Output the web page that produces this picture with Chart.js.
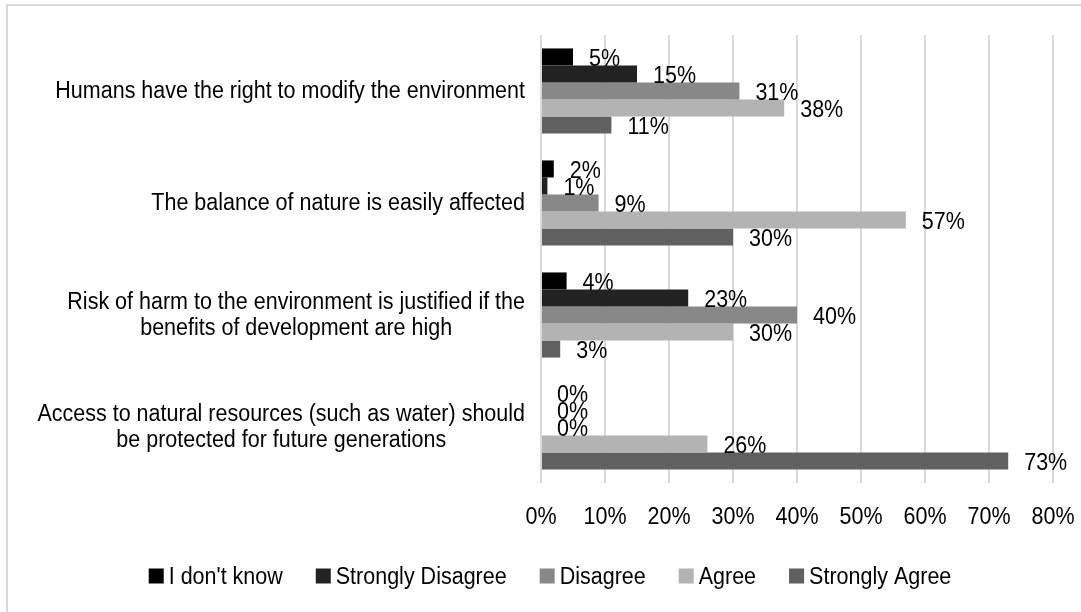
<!DOCTYPE html>
<html>
<head>
<meta charset="utf-8">
<script src="https://cdn.jsdelivr.net/npm/chart.js@4.4.1/dist/chart.umd.min.js"></script>
<style>
  html, body { margin: 0; padding: 0; background: #fff; }
  #wrap { position: relative; width: 1081px; height: 612px; }
</style>
</head>
<body>
<div id="wrap"><canvas id="chart" width="1081" height="612"></canvas></div>
<script>
  // categories (top to bottom), multi-line labels as arrays
  const categories = [
    ['Humans have the right to modify the environment'],
    ['The balance of nature is easily affected'],
    ['Risk of harm to the environment is justified if the', 'benefits of development are high'],
    ['Access to natural resources (such as water) should', 'be protected for future generations']
  ];
  const seriesNames = ["I don't know", 'Strongly Disagree', 'Disagree', 'Agree', 'Strongly Agree'];

  const dontKnow = [5, 2, 4, 0];
  const stronglyDisagree = [15, 1, 23, 0];
  const disagree = [31, 9, 40, 0];
  const agree = [38, 57, 30, 26];
  const stronglyAgree = [11, 30, 3, 73];

  const xTicks = [0, 10, 20, 30, 40, 50, 60, 70, 80];

  const colors = ['#000000', '#222222', '#888888', '#b3b3b3', '#606060'];
  const FONT = '"Liberation Sans", Arial, sans-serif';
  const FONT_SIZE = 21.5;
  const STRETCH = 1.13; // text in the original is a bit taller than Arial

  Chart.defaults.font.family = FONT;
  Chart.defaults.font.size = FONT_SIZE;
  Chart.defaults.color = '#000';

  const seriesValues = [dontKnow, stronglyDisagree, disagree, agree, stronglyAgree];

  function tallText(ctx, text, x, y) {
    ctx.save();
    ctx.translate(x, y);
    ctx.scale(1, STRETCH);
    ctx.fillText(text, 0, 0);
    ctx.restore();
  }

  // white background and the light frame at top/left
  const framePlugin = {
    id: 'frame',
    beforeDraw(chart) {
      const ctx = chart.ctx;
      ctx.save();
      ctx.fillStyle = '#fff';
      ctx.fillRect(0, 0, chart.width, chart.height);
      ctx.strokeStyle = '#d9d9d9';
      ctx.lineWidth = 2;
      ctx.beginPath();
      ctx.moveTo(7, chart.height);
      ctx.lineTo(7, 5);
      ctx.lineTo(chart.width, 5);
      ctx.stroke();
      ctx.restore();
    }
  };

  // category labels: block right-aligned, lines centred within the block
  const categoryLabels = {
    id: 'categoryLabels',
    afterDraw(chart) {
      const ctx = chart.ctx;
      const y = chart.scales.y;
      const right = chart.chartArea.left - 16;
      const lh = 26;
      ctx.save();
      ctx.font = FONT_SIZE + 'px ' + FONT;
      ctx.fillStyle = '#000';
      ctx.textAlign = 'center';
      ctx.textBaseline = 'middle';
      categories.forEach((lines, i) => {
        const w = Math.max(...lines.map(l => ctx.measureText(l).width));
        const cx = right - w / 2;
        const cy = y.getPixelForValue(i);
        const top = cy - (lines.length - 1) * lh / 2;
        lines.forEach((l, j) => tallText(ctx, l, cx, top + j * lh));
      });
      ctx.restore();
    }
  };

  // x tick labels under the plot
  const xLabels = {
    id: 'xLabels',
    afterDraw(chart) {
      const ctx = chart.ctx;
      const x = chart.scales.x;
      ctx.save();
      ctx.font = FONT_SIZE + 'px ' + FONT;
      ctx.fillStyle = '#000';
      ctx.textAlign = 'center';
      ctx.textBaseline = 'middle';
      xTicks.forEach(v => tallText(ctx, v + '%', x.getPixelForValue(v), chart.chartArea.bottom + 34));
      ctx.restore();
    }
  };

  // value labels just past the bar ends
  const valueLabels = {
    id: 'valueLabels',
    afterDatasetsDraw(chart) {
      const ctx = chart.ctx;
      ctx.save();
      ctx.font = FONT_SIZE + 'px ' + FONT;
      ctx.fillStyle = '#000';
      ctx.textAlign = 'left';
      ctx.textBaseline = 'middle';
      chart.data.datasets.forEach((ds, di) => {
        const meta = chart.getDatasetMeta(di);
        meta.data.forEach((bar, i) => {
          tallText(ctx, ds.data[i] + '%', bar.x + 16, bar.y + 2);
        });
      });
      ctx.restore();
    }
  };

  // legend row at the bottom
  const legendRow = {
    id: 'legendRow',
    afterDraw(chart) {
      const ctx = chart.ctx;
      const box = 15, gapText = 5, gapItem = 33;
      ctx.save();
      ctx.font = FONT_SIZE + 'px ' + FONT;
      ctx.textBaseline = 'middle';
      ctx.textAlign = 'left';
      const widths = seriesNames.map(n => box + gapText + ctx.measureText(n).width);
      const total = widths.reduce((a, b) => a + b, 0) + gapItem * (widths.length - 1);
      let x = 550 - total / 2;
      const cy = 576;
      seriesNames.forEach((n, i) => {
        ctx.fillStyle = colors[i];
        ctx.fillRect(x, cy - box / 2, box, box);
        ctx.fillStyle = '#000';
        tallText(ctx, n, x + box + gapText, cy + 1);
        x += widths[i] + gapItem;
      });
      ctx.restore();
    }
  };

  new Chart(document.getElementById('chart'), {
    type: 'bar',
    data: {
      labels: categories,
      datasets: seriesNames.map((name, i) => ({
        label: name,
        data: seriesValues[i],
        backgroundColor: colors[i],
        borderWidth: 0,
        barPercentage: 1,
        categoryPercentage: 0.76
      }))
    },
    options: {
      indexAxis: 'y',
      responsive: false,
      animation: false,
      layout: { padding: { top: 35, right: 28, left: 0, bottom: 0 } },
      plugins: {
        legend: { display: false },
        tooltip: { enabled: false }
      },
      scales: {
        x: {
          min: 0,
          max: 80,
          afterBuildTicks: s => { s.ticks = xTicks.map(v => ({ value: v })); },
          afterFit: s => { s.height = 129; },
          ticks: { display: false },
          grid: { color: '#d9d9d9', lineWidth: 2, drawTicks: false },
          border: { display: false }
        },
        y: {
          afterFit: s => { s.width = 541; },
          ticks: { display: false },
          grid: { display: false, drawTicks: false },
          border: { display: false }
        }
      }
    },
    plugins: [framePlugin, categoryLabels, xLabels, valueLabels, legendRow]
  });
</script>
</body>
</html>
